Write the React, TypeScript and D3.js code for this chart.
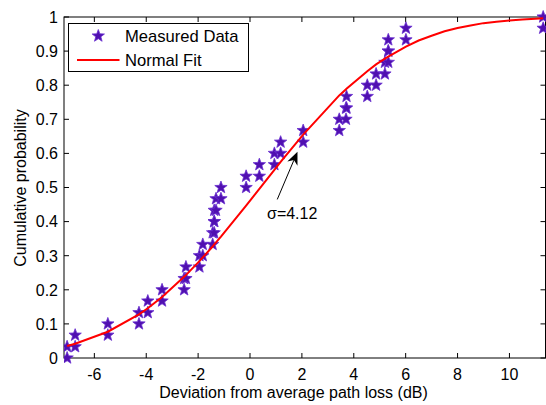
import React from "react";
import * as d3 from "d3";

// Empirical CDF of measured deviations (dB): each sample is drawn at both ends of its step
const sampleX = [-7.05, -6.74, -5.48, -4.28, -3.94, -3.39, -2.54, -2.47, -1.95, -1.82, -1.44, -1.38, -1.38, -1.31, -1.12, -0.15, 0.36, 0.94, 1.18, 2.05, 3.44, 3.70, 3.72, 4.52, 4.86, 5.20, 5.33, 5.33, 6.01, 11.3];
const cdfLow = [0, 0.033, 0.067, 0.1, 0.133, 0.167, 0.2, 0.233, 0.267, 0.3, 0.333, 0.367, 0.4, 0.433, 0.467, 0.5, 0.533, 0.567, 0.6, 0.633, 0.667, 0.7, 0.733, 0.767, 0.8, 0.833, 0.867, 0.9, 0.933, 0.967];
const cdfHigh = [0.033, 0.067, 0.1, 0.133, 0.167, 0.2, 0.233, 0.267, 0.3, 0.333, 0.367, 0.4, 0.433, 0.467, 0.5, 0.533, 0.567, 0.6, 0.633, 0.667, 0.7, 0.733, 0.767, 0.8, 0.833, 0.867, 0.9, 0.933, 0.967, 1.0];
// Normal fit curve (x, cumulative probability)
const fitX = [-7.05, -6.74, -5.48, -4.28, -3.94, -3.39, -2.54, -2.47, -1.95, -1.82, -1.44, -1.38, -1.31, -1.12, -0.15, 0.36, 0.94, 1.18, 2.05, 3.44, 3.70, 3.72, 4.52, 4.86, 5.20, 5.33, 6.01, 6.5, 7.0, 7.5, 8.0, 8.5, 9.0, 9.5, 10.0, 10.5, 11.0, 11.3];
const fitY = [0.035, 0.042, 0.077, 0.128, 0.146, 0.179, 0.238, 0.243, 0.284, 0.295, 0.327, 0.333, 0.339, 0.356, 0.447, 0.496, 0.552, 0.575, 0.655, 0.770, 0.788, 0.790, 0.841, 0.861, 0.878, 0.884, 0.913, 0.931, 0.945, 0.958, 0.968, 0.975, 0.982, 0.986, 0.990, 0.993, 0.995, 0.996];

const xTicks = [-6, -4, -2, 0, 2, 4, 6, 8, 10];
const yTicks = [0, 0.1, 0.2, 0.3, 0.4, 0.5, 0.6, 0.7, 0.8, 0.9, 1];
const yTickLabels = ["0", "0.1", "0.2", "0.3", "0.4", "0.5", "0.6", "0.7", "0.8", "0.9", "1"];
const legendLabels = ["Measured Data", "Normal Fit"];
const annotation = "σ=4.12";
const xLabel = "Deviation from average path loss (dB)";
const yLabel = "Cumulative probability";

const W = 546, H = 405;
const L = 64, R = 545.5, T = 17, B = 358;
const FONT = "'Liberation Sans', Arial, sans-serif";
const STAR = "#5010b0";

function starPath(cx: number, cy: number, ro: number, ri: number) {
  const pts: string[] = [];
  for (let k = 0; k < 10; k++) {
    const r = k % 2 === 0 ? ro : ri;
    const a = -Math.PI / 2 + (k * Math.PI) / 5;
    pts.push(`${(cx + r * Math.cos(a)).toFixed(2)},${(cy + r * Math.sin(a)).toFixed(2)}`);
  }
  return "M" + pts.join("L") + "Z";
}

export default function App() {
  const x = d3.scaleLinear().domain([-7.17, 11.39]).range([L, R]);
  const y = d3.scaleLinear().domain([0, 1]).range([B, T]);
  const line = d3.line<number>().x((_, i) => x(fitX[i])).y((d) => y(d));

  const stars: { cx: number; cy: number }[] = [];
  sampleX.forEach((v, i) => {
    stars.push({ cx: x(v), cy: y(cdfLow[i]) });
    stars.push({ cx: x(v), cy: y(cdfHigh[i]) });
  });

  // arrow annotation (data coordinates)
  const tail = [x(1.05), y(0.465)];
  const tip = [x(1.83), y(0.605)];
  const dx = tip[0] - tail[0], dy = tip[1] - tail[1];
  const len = Math.hypot(dx, dy);
  const ux = dx / len, uy = dy / len;
  const nx = -uy, ny = ux;
  const hl = 13, hw = 5.5;
  const head = [
    [tip[0], tip[1]],
    [tip[0] - hl * ux + hw * nx, tip[1] - hl * uy + hw * ny],
    [tip[0] - 0.7 * hl * ux, tip[1] - 0.7 * hl * uy],
    [tip[0] - hl * ux - hw * nx, tip[1] - hl * uy - hw * ny],
  ];

  const tk = 5;
  return (
    <svg width={W} height={H} style={{ position: "absolute", left: 0, top: 0, background: "#fff" }} fontFamily={FONT}>
      <rect x={0} y={0} width={W} height={H} fill="#fff" />
      <defs>
        <clipPath id="plot">
          <rect x={L} y={T - 8} width={R - L + 10} height={B - T + 16} />
        </clipPath>
      </defs>
      {/* axes box */}
      <rect x={L} y={T} width={R - L} height={B - T} fill="none" stroke="#000" strokeWidth={1} />
      {xTicks.map((t) => (
        <g key={"xt" + t}>
          <line x1={x(t)} x2={x(t)} y1={B} y2={B - tk} stroke="#000" />
          <line x1={x(t)} x2={x(t)} y1={T} y2={T + tk} stroke="#000" />
          <text x={x(t)} y={380} fontSize={16} textAnchor="middle">{t}</text>
        </g>
      ))}
      {yTicks.map((t, i) => (
        <g key={"yt" + t}>
          <line x1={L} x2={L + tk} y1={y(t)} y2={y(t)} stroke="#000" />
          <line x1={R} x2={R - tk} y1={y(t)} y2={y(t)} stroke="#000" />
          <text x={58} y={y(t) + 5.8} fontSize={16} textAnchor="end">{yTickLabels[i]}</text>
        </g>
      ))}
      <text x={293.5} y={398} fontSize={16} textAnchor="middle">{xLabel}</text>
      <text transform={`translate(26,188) rotate(-90)`} fontSize={16} textAnchor="middle">{yLabel}</text>

      <g clipPath="url(#plot)">
        {stars.map((s, i) => (
          <path key={i} d={starPath(s.cx, s.cy, 6.5, 2.7)} fill={STAR} stroke="#6a30d0" strokeWidth={0.8} strokeLinejoin="miter" />
        ))}
        <path d={line(fitY) || ""} fill="none" stroke="#ff0000" strokeWidth={2} />
      </g>

      {/* annotation */}
      <line x1={tail[0]} y1={tail[1]} x2={tip[0] - 0.7 * hl * ux} y2={tip[1] - 0.7 * hl * uy} stroke="#000" strokeWidth={1} />
      <polygon points={head.map((p) => p.join(",")).join(" ")} fill="#000" />
      <text x={267} y={219} fontSize={16}>{annotation}</text>

      {/* legend */}
      <rect x={68.5} y={23.5} width={180} height={48} fill="#fff" stroke="#000" strokeWidth={1} />
      <path d={starPath(98.3, 36, 6.5, 2.7)} fill={STAR} stroke="#6a30d0" strokeWidth={0.8} />
      <text x={125} y={41.8} fontSize={16.6}>{legendLabels[0]}</text>
      <line x1={77} x2={119.5} y1={60} y2={60} stroke="#ff0000" strokeWidth={2} />
      <text x={125} y={66} fontSize={16.6}>{legendLabels[1]}</text>
    </svg>
  );
}
